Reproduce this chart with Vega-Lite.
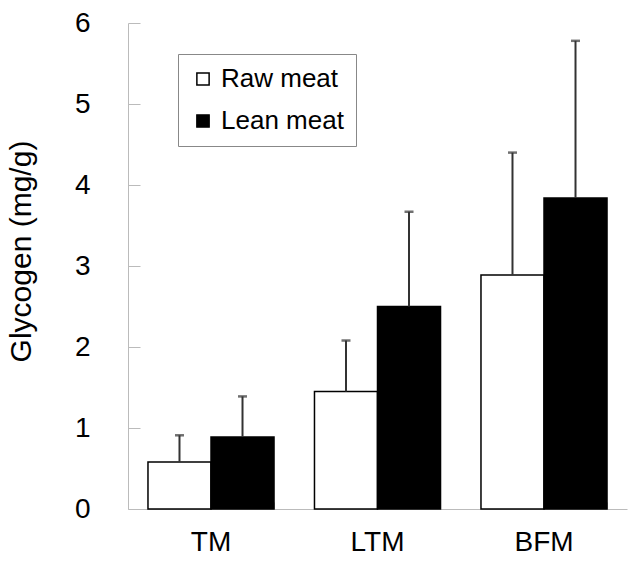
{
  "$schema": "https://vega.github.io/schema/vega-lite/v6.json",
  "width": 499,
  "height": 486,
  "autosize": "none",
  "padding": {"left": 128, "top": 23, "right": 7, "bottom": 57},
  "config": {
    "view": {"stroke": null},
    "font": "Liberation Sans",
    "axis": {"labelColor": "black", "titleColor": "black", "labelFont": "Liberation Sans", "titleFont": "Liberation Sans"}
  },
  "data": {
    "values": [
      {"group": "TM", "type": "Raw meat", "value": 0.58, "upper": 0.91},
      {"group": "TM", "type": "Lean meat", "value": 0.89, "upper": 1.39},
      {"group": "LTM", "type": "Raw meat", "value": 1.45, "upper": 2.08},
      {"group": "LTM", "type": "Lean meat", "value": 2.50, "upper": 3.67},
      {"group": "BFM", "type": "Raw meat", "value": 2.89, "upper": 4.40},
      {"group": "BFM", "type": "Lean meat", "value": 3.84, "upper": 5.78}
    ]
  },
  "encoding": {
    "x": {
      "field": "group", "type": "nominal", "sort": ["TM", "LTM", "BFM"],
      "scale": {"paddingInner": 0.243, "paddingOuter": 0.12},
      "axis": {
        "title": null, "labelAngle": 0, "labelFontSize": 28, "labelPadding": 26,
        "domainColor": "#bbbbbb", "tickColor": "#bbbbbb", "tickSize": -7,
        "bandPosition": 1
      }
    },
    "xOffset": {"field": "type", "type": "nominal", "sort": ["Raw meat", "Lean meat"], "scale": {"paddingInner": 0, "paddingOuter": 0}}
  },
  "layer": [
    {
      "mark": {"type": "bar", "stroke": "black", "strokeWidth": 1.5},
      "encoding": {
        "y": {
          "field": "value", "type": "quantitative",
          "scale": {"domain": [0, 6], "nice": false},
          "axis": {
            "title": "Glycogen (mg/g)", "titleFontSize": 30, "titleFontWeight": "normal", "titlePadding": 38, "titleY": 228,
            "values": [0, 1, 2, 3, 4, 5, 6], "format": "d", "labelFontSize": 28, "labelPadding": 50,
            "domainColor": "#bbbbbb", "tickColor": "#bbbbbb", "tickSize": -12, "grid": false
          }
        },
        "fill": {
          "field": "type", "type": "nominal", "sort": ["Raw meat", "Lean meat"],
          "scale": {"domain": ["Raw meat", "Lean meat"], "range": ["white", "black"]},
          "legend": {
            "title": null, "orient": "none", "legendX": 50, "legendY": 31,
            "strokeColor": "#888888", "fillColor": "white", "padding": 12,
            "symbolType": "square", "symbolSize": 150, "symbolStrokeColor": "black", "symbolStrokeWidth": 1.5,
            "labelFontSize": 26, "labelColor": "black", "rowPadding": 16, "labelOffset": 5
          }
        }
      }
    },
    {
      "mark": {"type": "rule", "color": "#333333", "strokeWidth": 2},
      "encoding": {
        "y": {"field": "value", "type": "quantitative"},
        "y2": {"field": "upper"}
      }
    },
    {
      "mark": {"type": "tick", "color": "#333333", "orient": "horizontal", "size": 9, "thickness": 2.5},
      "encoding": {
        "y": {"field": "upper", "type": "quantitative"}
      }
    }
  ]
}
